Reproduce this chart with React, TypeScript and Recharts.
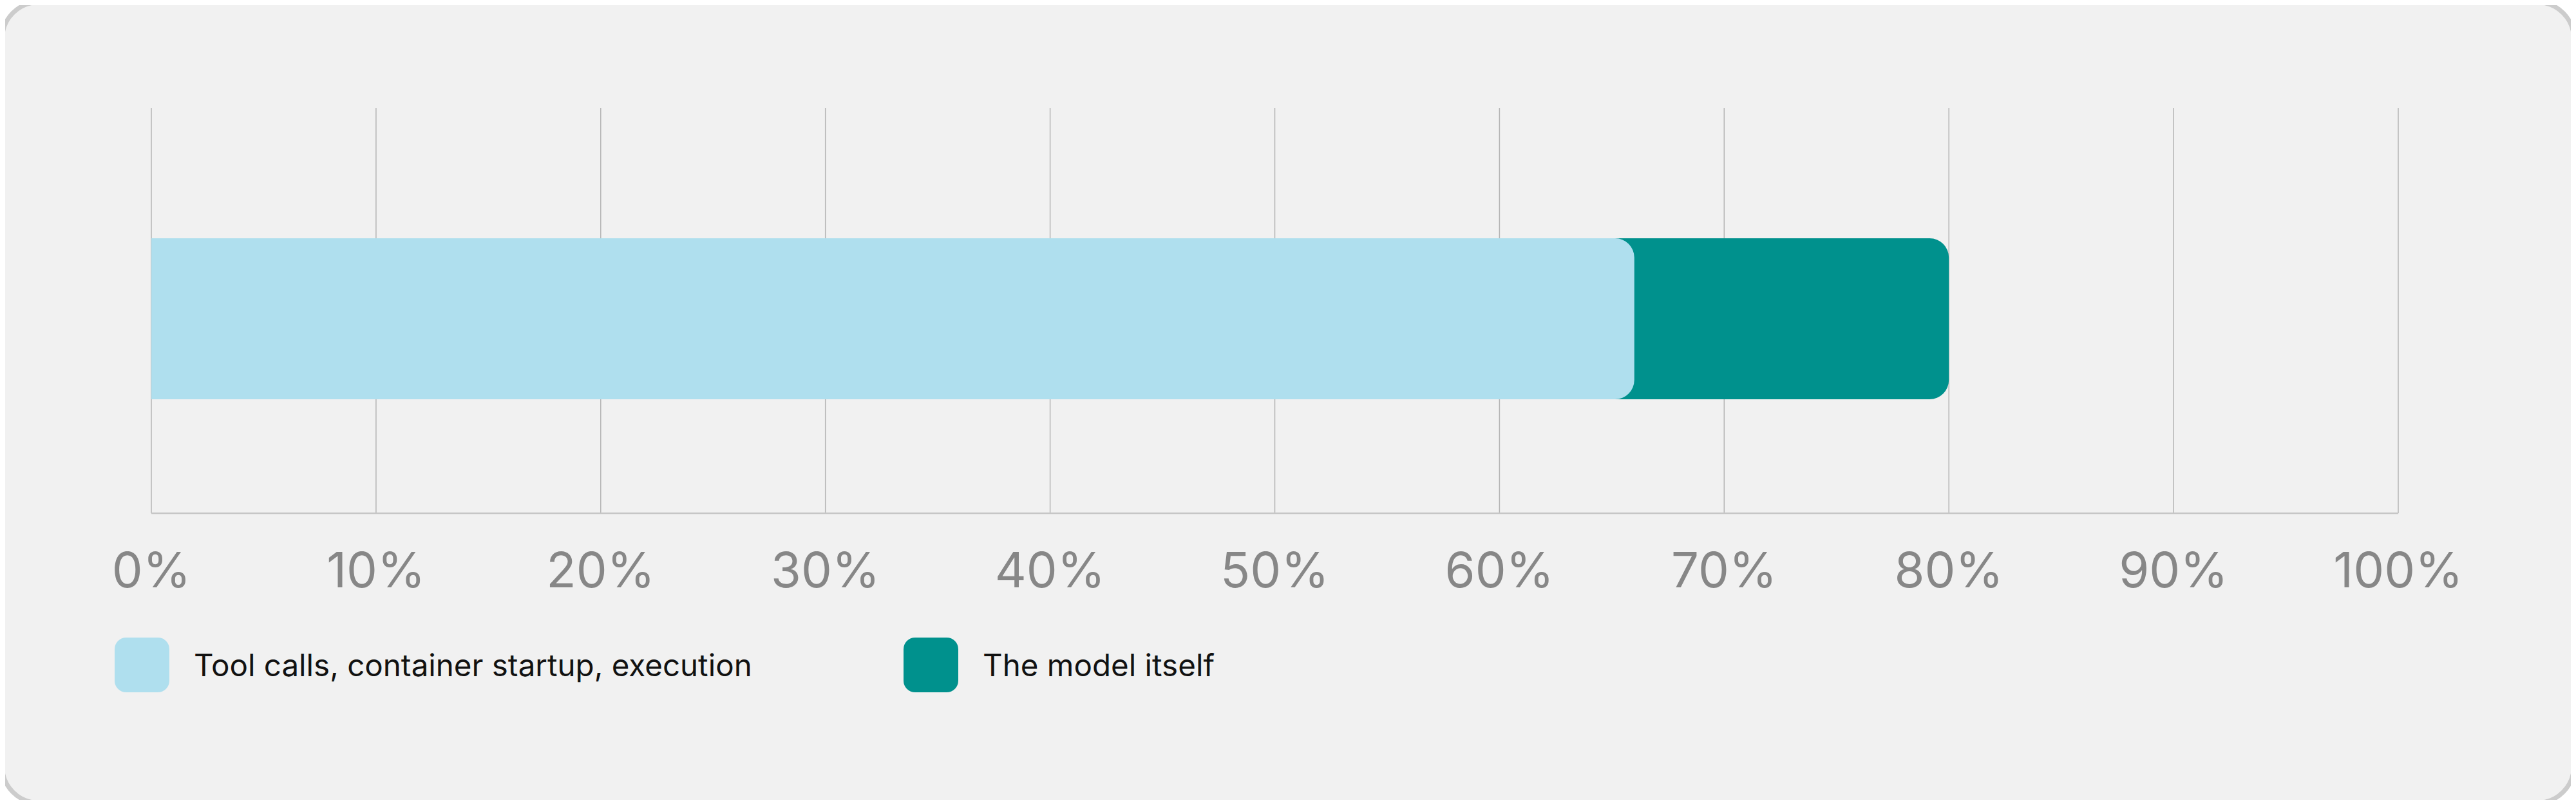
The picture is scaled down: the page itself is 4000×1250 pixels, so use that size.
import * as React from 'react';
import { Bar, BarChart, CartesianGrid, XAxis, YAxis } from 'recharts';

const categories = ['Time spent'];
const toolShare = [66];
const modelShare = [14];
const seriesNames = ['Tool calls, container startup, execution', 'The model itself'];
const seriesColors = ['#afdfee', '#00918d'];
const xTicks = [0, 10, 20, 30, 40, 50, 60, 70, 80, 90, 100];

// the model bar is drawn from 0 to the stacked end, tool bar sits on top of it
const data = categories.map((name, i) => ({
  name,
  tool: toolShare[i],
  total: toolShare[i] + modelShare[i],
}));

const FONT = 'Inter, "Noto Sans", sans-serif';

function LegendRow() {
  return (
    <div style={{ position: 'absolute', left: 178, top: 990, display: 'flex', fontFamily: FONT }}>
      {seriesNames.map((label, i) => (
        <div key={label} style={{ display: 'flex', alignItems: 'center', width: 1225 }}>
          <div
            style={{
              width: 85,
              height: 85,
              borderRadius: 18,
              background: seriesColors[i],
              flex: 'none',
            }}
          />
          <span style={{ marginLeft: 38, fontSize: 47.5, color: '#111' }}>{label}</span>
        </div>
      ))}
    </div>
  );
}

export default function App() {
  return (
    <div style={{ position: 'relative', width: 4000, height: 1250, margin: -8 }}>
      <div
        style={{
          position: 'absolute',
          inset: 0,
          boxSizing: 'border-box',
          background: '#f1f1f1',
          border: '7px solid #cccccc',
          borderRadius: 60,
        }}
      />
      <div style={{ position: 'absolute', left: 0, top: 0 }}>
        <BarChart
          width={4000}
          height={1250}
          data={data}
          layout="vertical"
          barSize={250}
          barGap={-250}
          margin={{ top: 168, right: 276, left: 235, bottom: 303 }}
        >
          <CartesianGrid horizontal={false} stroke="#b4b4b4" strokeWidth={1.5} />
          <XAxis
            type="number"
            domain={[0, 100]}
            ticks={xTicks}
            tickFormatter={(v: number) => `${v}%`}
            tickLine={false}
            tickMargin={55}
            height={150}
            axisLine={{ stroke: '#c6c6c6', strokeWidth: 2.5 }}
            tick={{ fill: '#878787', fontSize: 76, fontFamily: FONT }}
          />
          <YAxis type="category" dataKey="name" hide padding={{ top: 25, bottom: 0 }} />
          <Bar
            dataKey="total"
            name={seriesNames[1]}
            fill={seriesColors[1]}
            radius={[0, 30, 30, 0]}
            isAnimationActive={false}
          />
          <Bar
            dataKey="tool"
            name={seriesNames[0]}
            fill={seriesColors[0]}
            radius={[0, 30, 30, 0]}
            isAnimationActive={false}
          />
        </BarChart>
      </div>
      <LegendRow />
    </div>
  );
}
